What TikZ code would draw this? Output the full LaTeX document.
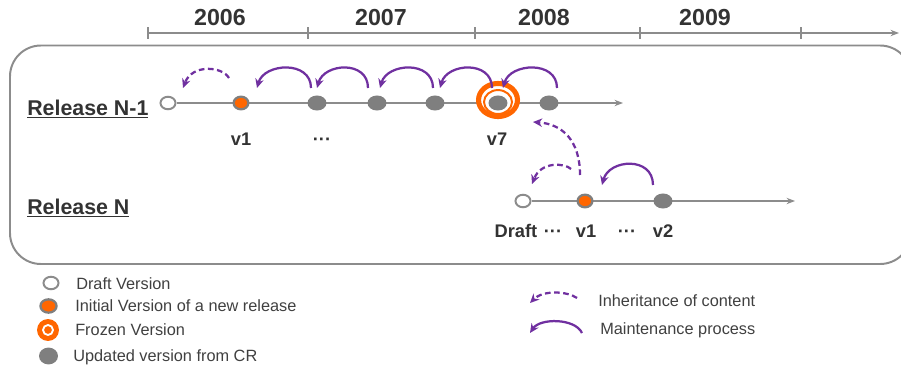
\documentclass[tikz,border=0pt]{standalone}
\usepackage{fontspec}
\setmainfont{Liberation Sans}
\usetikzlibrary{shapes.geometric,arrows.meta,backgrounds}
\definecolor{relgray}{HTML}{8C8C8C}
\definecolor{dotgray}{HTML}{7F7F7F}
\definecolor{frzorange}{HTML}{FF6600}
\definecolor{arcpurple}{HTML}{7030A0}
\definecolor{txtgray}{HTML}{333333}
\definecolor{lgtext}{HTML}{404040}

\tikzset{
  updated/.style={ellipse, fill=dotgray, minimum width=13.5pt, minimum height=10.7pt, inner sep=0pt},
  initial/.style={ellipse, fill=frzorange, draw=dotgray, line width=1.6pt,
                  minimum width=10.5pt, minimum height=9pt, inner sep=0pt},
  draft/.style={ellipse, fill=white, draw=relgray, line width=1.4pt,
                minimum width=10.7pt, minimum height=8.9pt, inner sep=0pt},
  frzring/.style={ellipse, fill=white, draw=frzorange, line width=3.6pt,
                  minimum width=27.7pt, minimum height=23.5pt, inner sep=0pt},
  frzinner/.style={ellipse, draw=frzorange, line width=1.4pt,
                   minimum width=19.9pt, minimum height=17pt, inner sep=0pt},
  year/.style={inner sep=0pt, anchor=base, text=txtgray,
               font=\fontsize{16.5pt}{19pt}\selectfont\bfseries},
  rellabel/.style={inner sep=0pt, anchor=base west, text=txtgray,
                   font=\fontsize{15.2pt}{18pt}\selectfont\bfseries},
  vlabel/.style={inner sep=0pt, anchor=base, text=txtgray,
                 font=\fontsize{13pt}{15pt}\selectfont\bfseries},
  lgtxt/.style={inner sep=0pt, anchor=base west, text=lgtext,
                font=\fontsize{11.6pt}{14pt}\selectfont},
  tline/.style={draw=relgray, line width=1.1pt, -{Stealth[length=6pt,width=4.5pt]}},
  maint/.style={draw=arcpurple, line width=1.6pt, -{Stealth[length=6.5pt,width=6pt]}},
  inherit/.style={maint, dash pattern=on 4pt off 2.5pt}
}

\begin{document}
\begin{tikzpicture}[x=0.025cm, y=-0.025cm]
  \useasboundingbox (0,0) rectangle (901,369);

  % time axis
  \coordinate (t0) at (148,33);
  \coordinate (tEnd) at (899,33);
  \draw[draw=relgray, line width=1.4pt, -{Stealth[length=6pt,width=4.5pt]}] (t0) -- (tEnd);
  \foreach \x in {148,308,475,640,801}
    \draw[draw=relgray, line width=1.4pt] (\x,27) -- (\x,39);
  \node[year] (y2006) at (220,25) {2006};
  \node[year] (y2007) at (381,25) {2007};
  \node[year] (y2008) at (544,25) {2008};
  \node[year] (y2009) at (705,25) {2009};

  % release N-1
  \node[rellabel] (relA) at (27,115) {\underline{Release N-1}};
  \node[draft]    (dA)  at (168,103) {};
  \node[initial]  (a1)  at (241,103) {};
  \node[updated]  (a2)  at (317,103) {};
  \node[updated]  (a3)  at (377,103) {};
  \node[updated]  (a4)  at (435,103) {};
  \node[frzring]  (fz)  at (498,100) {};
  \node[frzinner] (fzi) at (498,102) {};
  \node[updated]  (a5)  at (498,103) {};
  \node[updated]  (a6)  at (549,103) {};
  \coordinate (endA) at (623,103);
  \node[vlabel] (la1)   at (241,145) {v1};
  \node[vlabel] (ldotA) at (322,145) {···};
  \node[vlabel] (la5)   at (497,145) {v7};

  % release N
  \node[rellabel] (relB) at (27,214) {\underline{Release N}};
  \node[draft]    (dB)  at (523,201) {};
  \node[initial]  (b1)  at (585,201) {};
  \node[updated]  (b2)  at (663,201) {};
  \coordinate (endB) at (795,201);
  \node[vlabel] (ldB)    at (516,237) {Draft};
  \node[vlabel] (ldotB1) at (553,237) {···};
  \node[vlabel] (lb1)    at (586,237) {v1};
  \node[vlabel] (ldotB2) at (627,237) {···};
  \node[vlabel] (lb2)    at (663,237) {v2};

  \begin{pgfonlayer}{background}
    \draw[draw=relgray, line width=1.4pt, rounded corners=22pt] (10,45.5) rectangle (911,264);
    \draw[tline] (dA) -- (endA);
    \draw[tline] (dB) -- (endB);
  \end{pgfonlayer}

  % maintenance
  \draw[maint] ([shift={(-6,-15)}]a2.center) .. controls +(0,-28) and +(7,-25) .. ([shift={(16,-15)}]a1.center);
  \draw[maint] ([shift={(-9,-15)}]a3.center) .. controls +(0,-28) and +(7,-25) .. ([shift={(0,-15)}]a2.center);
  \draw[maint] ([shift={(-2,-15)}]a4.center) .. controls +(0,-28) and +(7,-25) .. ([shift={(3,-15)}]a3.center);
  \draw[maint] ([shift={(-6,-15)}]a5.center) .. controls +(0,-28) and +(7,-25) .. ([shift={(5,-15)}]a4.center);
  \draw[maint] ([shift={(8,-15)}]a6.center) .. controls +(0,-28) and +(7,-25) .. ([shift={(5,-15)}]a5.center);
  \draw[maint] ([shift={(-10,-16)}]b2.center) .. controls +(0,-29) and +(7,-26) .. ([shift={(17,-16)}]b1.center);

  % inheritance
  \draw[inherit] ([shift={(-12,-25)}]a1.center) .. controls +(-7,-12) and +(9,-24) .. ([shift={(15,-15)}]dA.center);
  \draw[inherit] ([shift={(-5,-26)}]b1.center) .. controls +(0,-35) and +(29,2) .. ([shift={(35,19)}]a5.center);
  \draw[inherit] ([shift={(-14,-32)}]b1.center) .. controls +(-6,-6) and +(9,-23) .. ([shift={(9,-17)}]dB.center);

  % legend
  \node[draft]   (lgDraft) at (51,283) {};
  \node[initial, minimum width=11.5pt, minimum height=9.5pt] (lgInit) at (48.5,306) {};
  \node[circle, fill=frzorange, minimum size=15.6pt, inner sep=0pt] (lgFrz) at (48,330) {};
  \draw[white, line width=1.3pt] (lgFrz.center) circle[radius=5];
  \node[updated, minimum height=12pt] (lgUpd) at (48.5,356) {};
  \node[lgtxt] (lgDraftT) at (76,289)  {Draft Version};
  \node[lgtxt] (lgInitT)  at (75,311.5) {Initial Version of a new release};
  \node[lgtxt] (lgFrzT)   at (75,335.5) {Frozen Version};
  \node[lgtxt] (lgUpdT)   at (73,361)  {Updated version from CR};

  \coordinate (lgInhS) at (577,298);
  \coordinate (lgInhE) at (530,303);
  \draw[inherit] (lgInhS) .. controls (567,291) and (543,290) .. (lgInhE);
  \coordinate (lgMntS) at (582,333);
  \coordinate (lgMntE) at (530,333);
  \draw[maint] (lgMntS) .. controls (575,318) and (540,318) .. (lgMntE);
  \node[lgtxt] (lgInhT) at (598,306) {Inheritance of content};
  \node[lgtxt] (lgMntT) at (600,334) {Maintenance process};
\end{tikzpicture}
\end{document}
